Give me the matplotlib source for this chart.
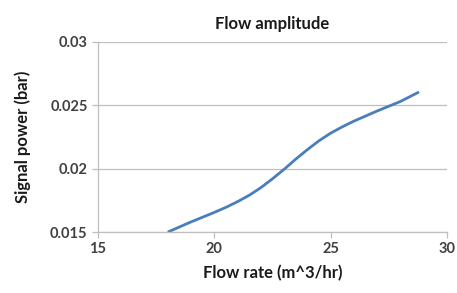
import matplotlib.pyplot as plt

flow_rate = [18, 19, 20, 20.5, 21, 21.5, 22, 22.5, 23, 23.5, 24, 24.5, 25, 25.5, 26, 27, 28, 28.8]
signal_power = [0.0150, 0.01580, 0.01655, 0.01695, 0.01740, 0.01790, 0.01850, 0.01920,
                0.01995, 0.02075, 0.02150, 0.02220, 0.02280, 0.02330, 0.02375, 0.02455, 0.02530, 0.02605]
xticks = [15, 20, 25, 30]
yticks = [0.015, 0.02, 0.025, 0.03]
ytick_labels = ['0.015', '0.02', '0.025', '0.03']

plt.rcParams['font.family'] = ['Lato', 'DejaVu Sans']

fig = plt.figure(figsize=(4.57, 2.93), dpi=100)
ax = fig.add_axes([0.2144, 0.208, 0.7636, 0.649])

ax.plot(flow_rate, signal_power, color='#4a7ebb', lw=2.0, solid_capstyle='butt', solid_joinstyle='round')

ax.set_xlim(15, 30)
ax.set_ylim(0.015, 0.03)
ax.set_xticks(xticks)
ax.set_yticks(yticks)
ax.set_yticklabels(ytick_labels)
ax.grid(axis='y', color='#bfbfbf', lw=0.9)
ax.set_axisbelow(True)

for s in ['top', 'right']:
    ax.spines[s].set_visible(False)
for s in ['left', 'bottom']:
    ax.spines[s].set_color('#bfbfbf')
    ax.spines[s].set_linewidth(0.9)

ax.tick_params(axis='both', colors='#bfbfbf', length=4, width=0.9, labelsize=10.5, labelcolor='#404040')
for lab in ax.get_xticklabels() + ax.get_yticklabels():
    lab.set_fontweight('bold')

ax.set_title('Flow amplitude', fontsize=12, fontweight='bold', color='#1a1a1a', pad=9)
ax.set_xlabel('Flow rate (m^3/hr)', fontsize=12, fontweight='bold', color='#1a1a1a', labelpad=6)
ax.set_ylabel('Signal power (bar)', fontsize=12, fontweight='bold', color='#1a1a1a', labelpad=14)

fig.savefig('out.png', dpi=100)
